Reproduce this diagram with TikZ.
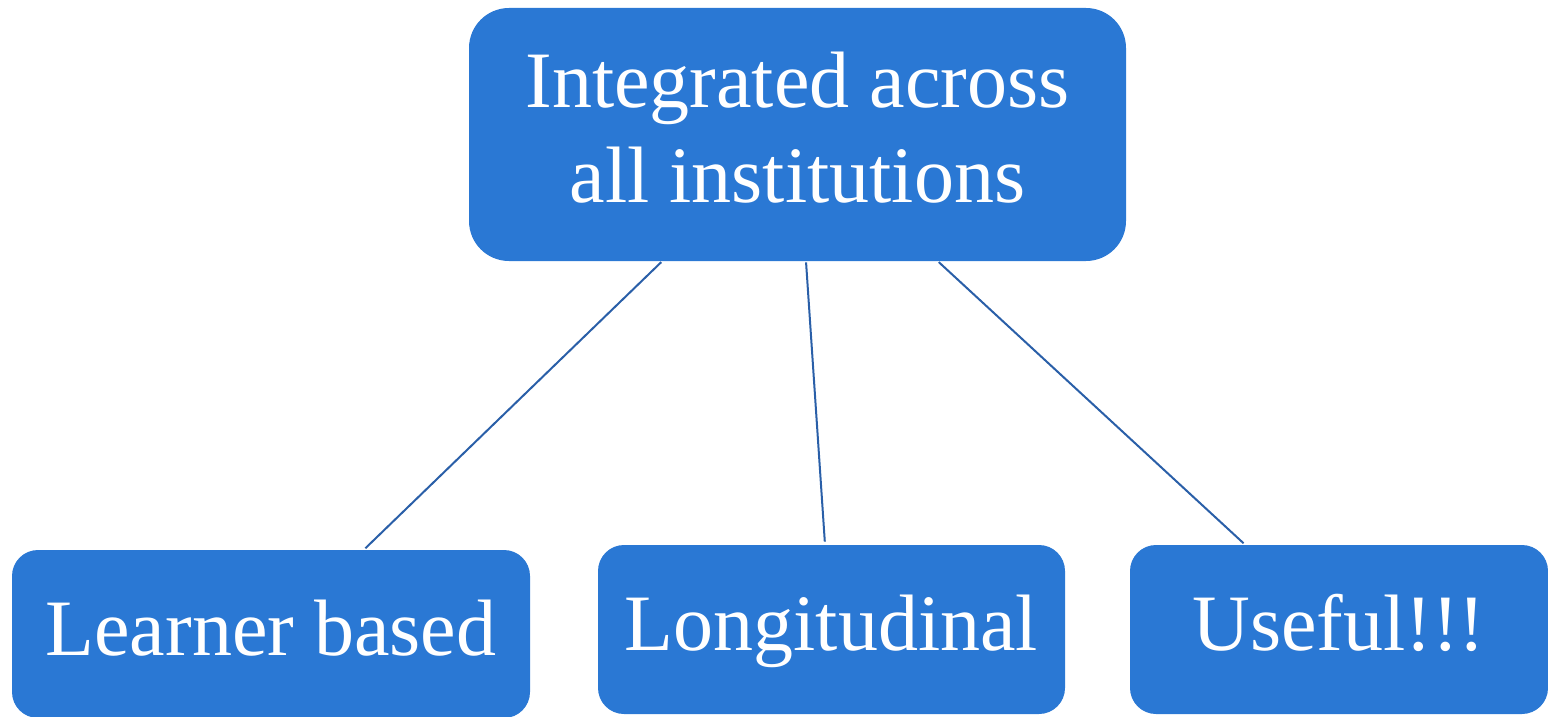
\documentclass[tikz,border=0pt]{standalone}
\usepackage{fontspec}
\setmainfont{Liberation Serif}
\definecolor{boxblue}{HTML}{2A78D4}
\definecolor{linkblue}{HTML}{2A5FA8}
\tikzset{
  px/.style={x=0.5pt,y=-0.5pt},
  box/.style={fill=boxblue, draw=none, text=white, align=center,
    font=\fontsize{40}{47.5}\selectfont, inner sep=0pt},
  leaf/.style={box, minimum height=84.5pt, rounded corners=13pt,
    text height=30pt, text depth=9pt},
  conn/.style={draw=linkblue, line width=1pt}
}
\begin{document}
\begin{tikzpicture}[px]
  \useasboundingbox (0,0) rectangle (1548,717);
  % parent box
  \node[box, minimum width=328.5pt, minimum height=126.5pt, rounded corners=20pt,
        text depth=7pt]
    (top) at (797.5,134.5) {Integrated across\\all institutions};
  % child boxes
  \node[leaf, minimum width=259pt, minimum height=84pt]
    (learner) at (271,634) {Learner based};
  \node[leaf, minimum width=233.5pt]
    (longi) at (831.5,629.5) {Longitudinal};
  \node[leaf, minimum width=209pt]
    (useful) at (1339,629.5) {Useful!!!};
  % connectors
  \draw[conn, shorten <=0.5pt, shorten >=1pt] ([xshift=-67.75pt]top.south) -- ([xshift=46.5pt]learner.north);
  \draw[conn, shorten <=0.5pt, shorten >=1.5pt] ([xshift=4.25pt]top.south) -- ([xshift=-3.25pt]longi.north);
  \draw[conn, shorten <=0.5pt, shorten >=1pt] ([xshift=70.25pt]top.south) -- ([xshift=-47pt]useful.north);
\end{tikzpicture}
\end{document}
